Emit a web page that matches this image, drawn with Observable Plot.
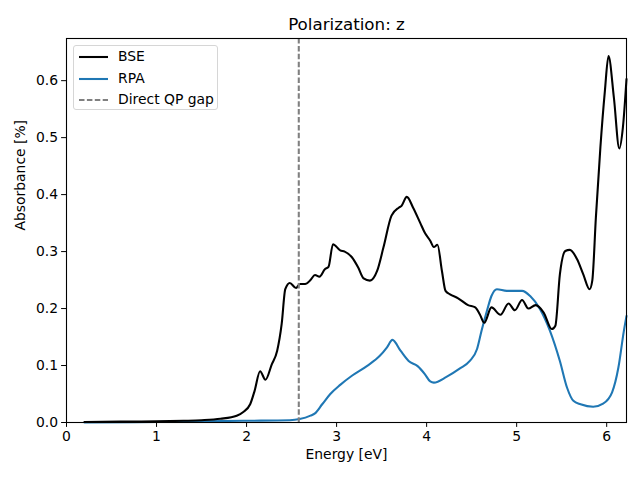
<!DOCTYPE html>
<html>
<head>
<meta charset="utf-8">
<script src="https://cdn.jsdelivr.net/npm/d3@7"></script>
<script src="https://cdn.jsdelivr.net/npm/@observablehq/plot@0.6"></script>
<style>
  html, body { margin: 0; padding: 0; background: #fff; }
  #wrap { position: relative; width: 640px; height: 480px; font-family: "DejaVu Sans", sans-serif; }
  #legend { position: absolute; left: 73px; top: 45px; width: 145px; height: 65px;
    border: 1px solid #d6d6d6; border-radius: 3px; background: rgba(255,255,255,0.8); box-sizing: border-box; }
  .entry { position: absolute; left: 0; height: 20px; font-size: 13.9px; color: #000; }
  .entry svg { position: absolute; left: 4px; top: 0; }
  .entry span { position: absolute; left: 44px; top: 1px; white-space: nowrap; }
</style>
</head>
<body>
<div id="wrap"></div>
<script>
const title = "Polarization: z";
const xLabel = "Energy [eV]";
const yLabel = "Absorbance [%]";
const gapEnergy = 2.58;

const bseEnergy = [0.2,0.6,1.0,1.3,1.5,1.71,1.89,1.96,2.04,2.09,2.15,2.21,2.28,2.34,2.39,2.43,2.48,2.55,2.59,2.65,2.71,2.76,2.81,2.87,2.91,2.96,3.04,3.09,3.17,3.24,3.30,3.37,3.45,3.52,3.61,3.69,3.72,3.78,3.85,3.93,3.98,4.04,4.08,4.12,4.17,4.21,4.26,4.35,4.46,4.54,4.59,4.64,4.72,4.82,4.91,4.98,5.06,5.13,5.21,5.30,5.39,5.43,5.48,5.54,5.59,5.67,5.74,5.81,5.84,5.88,5.93,5.98,6.02,6.08,6.14,6.18,6.22];
const bseValue  = [0.001,0.0015,0.002,0.003,0.004,0.0065,0.012,0.018,0.032,0.056,0.09,0.075,0.102,0.126,0.173,0.234,0.245,0.236,0.243,0.243,0.25,0.259,0.256,0.269,0.273,0.313,0.302,0.300,0.29,0.272,0.253,0.249,0.266,0.307,0.363,0.377,0.380,0.396,0.377,0.350,0.333,0.319,0.308,0.312,0.266,0.231,0.225,0.218,0.206,0.202,0.19,0.175,0.202,0.189,0.209,0.197,0.215,0.2,0.206,0.193,0.164,0.17,0.26,0.301,0.303,0.287,0.26,0.234,0.249,0.36,0.483,0.582,0.643,0.57,0.481,0.518,0.603];

const rpaEnergy = [0.2,1.0,1.5,2.0,2.48,2.59,2.71,2.76,2.84,2.93,3.04,3.17,3.34,3.48,3.56,3.62,3.71,3.80,3.90,3.98,4.04,4.08,4.22,4.37,4.48,4.56,4.61,4.67,4.72,4.78,4.89,5.06,5.15,5.26,5.37,5.48,5.56,5.63,5.71,5.85,5.96,6.06,6.13,6.19,6.22];
const rpaValue  = [0.0002,0.001,0.002,0.003,0.004,0.006,0.012,0.016,0.032,0.05,0.066,0.082,0.0995,0.117,0.132,0.145,0.126,0.108,0.099,0.085,0.072,0.070,0.080,0.095,0.108,0.129,0.161,0.196,0.222,0.234,0.231,0.231,0.222,0.199,0.161,0.108,0.061,0.038,0.032,0.0275,0.033,0.053,0.0965,0.16,0.187];

const seriesNames = ["BSE", "RPA", "Direct QP gap"];
const seriesColors = ["#000000", "#1f77b4", "#808080"];

const bse = bseEnergy.map((e, i) => ({e, v: bseValue[i]}));
const rpa = rpaEnergy.map((e, i) => ({e, v: rpaValue[i]}));

const font = "DejaVu Sans";
const plot = Plot.plot({
  width: 640,
  height: 480,
  marginLeft: 66,
  marginRight: 14,
  marginTop: 38,
  marginBottom: 58,
  style: {fontFamily: font, fontSize: "13.9px", color: "#000", background: "#fff"},
  x: {domain: [0, 6.22], label: null},
  y: {domain: [0, 0.674], label: null},
  marks: [
    Plot.line(rpa, {x: "e", y: "v", stroke: seriesColors[1], strokeWidth: 2.08, curve: "monotone-x"}),
    Plot.line(bse, {x: "e", y: "v", stroke: seriesColors[0], strokeWidth: 2.08, curve: "monotone-x"}),
    Plot.ruleX([gapEnergy], {stroke: seriesColors[2], strokeWidth: 2.08, strokeDasharray: "5.5,2.4"}),
    Plot.frame({stroke: "#000", strokeWidth: 1.1}),
    Plot.axisX({ticks: [0,1,2,3,4,5,6], tickFormat: d3.format("d"), tickSize: 4.9, tickPadding: 3.5, fontSize: "13.9px", label: null}),
    Plot.axisY({ticks: [0,0.1,0.2,0.3,0.4,0.5,0.6], tickFormat: d3.format(".1f"), tickSize: 4.9, tickPadding: 3.5, fontSize: "13.9px", label: null}),
    Plot.text([title], {frameAnchor: "top", dy: -9, fontSize: "16.7px", text: d => d, lineAnchor: "bottom"}),
    Plot.text([xLabel], {frameAnchor: "bottom", dy: 36, fontSize: "13.9px", text: d => d}),
    Plot.text([yLabel], {frameAnchor: "left", dx: -46, rotate: -90, fontSize: "13.9px", text: d => d})
  ]
});

const wrap = document.getElementById("wrap");
wrap.appendChild(plot);

const legend = document.createElement("div");
legend.id = "legend";
const dashes = ["", "", "5.5,2.4"];
seriesNames.forEach((name, i) => {
  const row = document.createElement("div");
  row.className = "entry";
  row.style.top = (1 + i * 21.7) + "px";
  row.innerHTML = `<svg width="32" height="20"><line x1="1" x2="30" y1="10" y2="10" stroke="${seriesColors[i]}" stroke-width="2.08" stroke-dasharray="${dashes[i]}"/></svg><span>${name}</span>`;
  legend.appendChild(row);
});
wrap.appendChild(legend);
</script>
</body>
</html>
